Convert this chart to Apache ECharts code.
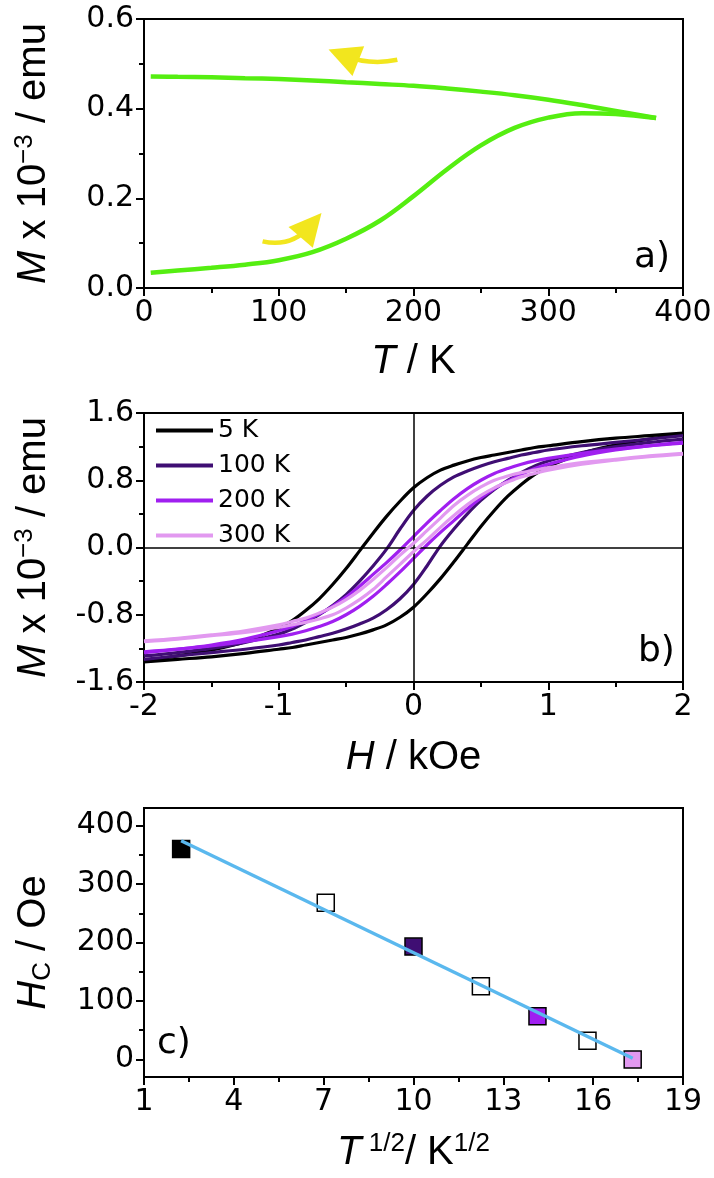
<!DOCTYPE html>
<html><head><meta charset="utf-8">
<script src="https://cdn.jsdelivr.net/npm/echarts@6/dist/echarts.min.js"></script>
<style>html,body{margin:0;padding:0;background:#fff}#c{width:714px;height:1178px}</style>
</head><body><div id="c"></div>
<script>
// ---- Panel a: M vs T ----
const tempA = [5,25,50,75,100,125,150,175,200,225,250,275,300,325,350,380];
const mWarming = [0.034,0.039,0.045,0.052,0.062,0.080,0.110,0.150,0.205,0.265,0.318,0.357,0.380,0.390,0.388,0.379];
const mCooling = [0.472,0.471,0.470,0.468,0.466,0.463,0.459,0.455,0.451,0.445,0.438,0.430,0.420,0.408,0.395,0.379];
const arrowCool = [[188,0.509],[148,0.519]];
const arrowWarm = [[88,0.104],[124,0.140]];
// ---- Panel b: hysteresis loops ----
const hField = [-2,-1.75,-1.5,-1.25,-1,-0.9,-0.8,-0.7,-0.6,-0.5,-0.4,-0.3,-0.2,-0.1,0,0.1,0.2,0.3,0.4,0.5,0.6,0.7,0.8,0.9,1,1.25,1.5,1.75,2];
const loopNames = ['5 K','100 K','200 K','300 K'];
const m5Desc = [-1.35,-1.29,-1.22,-1.12,-0.96,-0.87,-0.75,-0.61,-0.44,-0.25,-0.04,0.17,0.37,0.55,0.71,0.83,0.92,0.98,1.03,1.07,1.10,1.13,1.16,1.19,1.21,1.26,1.30,1.33,1.36];
const m5Asc = [-1.36,-1.33,-1.30,-1.26,-1.21,-1.19,-1.16,-1.13,-1.10,-1.07,-1.03,-0.98,-0.92,-0.83,-0.71,-0.55,-0.37,-0.17,0.04,0.25,0.44,0.61,0.75,0.87,0.96,1.12,1.22,1.29,1.35];
const m100Desc = [-1.29,-1.25,-1.20,-1.13,-1.03,-0.97,-0.89,-0.80,-0.69,-0.56,-0.40,-0.22,-0.02,0.22,0.44,0.61,0.74,0.84,0.91,0.97,1.02,1.06,1.10,1.13,1.16,1.21,1.25,1.29,1.33];
const m100Asc = [-1.33,-1.29,-1.25,-1.21,-1.16,-1.13,-1.10,-1.06,-1.02,-0.97,-0.91,-0.84,-0.74,-0.61,-0.44,-0.22,0.02,0.22,0.40,0.56,0.69,0.80,0.89,0.97,1.03,1.13,1.20,1.25,1.29];
const m200Desc = [-1.25,-1.21,-1.16,-1.09,-0.99,-0.94,-0.87,-0.79,-0.70,-0.59,-0.46,-0.32,-0.18,-0.03,0.13,0.29,0.44,0.58,0.70,0.80,0.88,0.94,0.99,1.03,1.06,1.12,1.17,1.21,1.24];
const m200Asc = [-1.24,-1.21,-1.17,-1.12,-1.06,-1.03,-0.99,-0.94,-0.88,-0.80,-0.70,-0.58,-0.44,-0.29,-0.13,0.03,0.18,0.32,0.46,0.59,0.70,0.79,0.87,0.94,0.99,1.09,1.16,1.21,1.25];
const m300Desc = [-1.11,-1.08,-1.04,-0.99,-0.92,-0.88,-0.84,-0.78,-0.71,-0.62,-0.51,-0.38,-0.24,-0.09,0.05,0.20,0.35,0.50,0.62,0.72,0.80,0.85,0.89,0.92,0.95,1.01,1.05,1.09,1.12];
const m300Asc = [-1.12,-1.09,-1.05,-1.01,-0.95,-0.92,-0.89,-0.85,-0.80,-0.72,-0.62,-0.50,-0.35,-0.20,-0.05,0.09,0.24,0.38,0.51,0.62,0.71,0.78,0.84,0.88,0.92,0.99,1.04,1.08,1.11];
// ---- Panel c: coercivity vs sqrt(T) ----
const sqrtT = [2.24,7.07,10.0,12.25,14.14,15.81,17.32];
const hc = [360,268,193,125,74,32,0];
const hcFill = ['#000000','#ffffff','#3f0e73','#ffffff','#a01ff0','#ffffff','#e299f0'];
const fitX = [2.24,17.32];
const fitY = [374,2];

const FF = "'Liberation Sans', Arial, Helvetica, sans-serif";
const FW = "'DejaVu Sans', Verdana, sans-serif";
const loopColors = ['#000000','#3f0e73','#a01ff0','#e299f0'];
const green = '#55ee11';
const yellow = '#f2e61e';
const pairs = (xs, ys) => xs.map((x,i)=>[x, ys[i]]);
const LBL = 30;

function axisBase(extra){
  return Object.assign({
    type:'value', splitLine:{show:false},
    axisLine:{show:true, onZero:false, lineStyle:{color:'#000', width:2}},
    axisTick:{show:true, inside:false, length:8, lineStyle:{color:'#000', width:2}},
    minorTick:{show:true, splitNumber:2, length:5, lineStyle:{color:'#000', width:2}},
    axisLabel:{color:'#000', fontSize:LBL, fontFamily:FW, margin:10},
    nameTextStyle:{color:'#000', fontSize:40, fontFamily:FF}
  }, extra);
}
const richName = {
  i:{fontStyle:'italic', fontSize:40, fontFamily:FF, color:'#000', lineHeight:44},
  n:{fontSize:40, fontFamily:FF, color:'#000', lineHeight:44},
  sup:{fontSize:26, fontFamily:FF, color:'#000', verticalAlign:'top', lineHeight:26},
  sub:{fontSize:26, fontFamily:FF, color:'#000', verticalAlign:'bottom', lineHeight:26}
};
const gridBase = {left:144, width:539, height:269, show:true, borderColor:'#000', borderWidth:2, backgroundColor:'transparent', containLabel:false, outerBoundsMode:'none'};

const loopDesc = [m5Desc, m100Desc, m200Desc, m300Desc];
const loopAsc = [m5Asc, m100Asc, m200Asc, m300Asc];
const loopSeries = [];
loopNames.forEach((nm, k) => {
  [loopDesc[k], loopAsc[k]].forEach(arr => {
    loopSeries.push({
      type:'line', name:nm, xAxisIndex:1, yAxisIndex:1, data:pairs(hField, arr),
      smooth:0.35, symbol:'none', showSymbol:false, z:2+k,
      lineStyle:{color:loopColors[k], width:3.2}, itemStyle:{color:loopColors[k]}
    });
  });
});

const option = {
  animation:false,
  backgroundColor:'#fff',
  grid:[
    Object.assign({top:19}, gridBase),
    Object.assign({top:413}, gridBase),
    Object.assign({top:808}, gridBase)
  ],
  xAxis:[
    axisBase({gridIndex:0, min:0, max:400, interval:100,
      name:'{i|T}{n| / K}', nameLocation:'middle', nameGap:52,
      nameTextStyle:{rich:richName}}),
    axisBase({gridIndex:1, min:-2, max:2, interval:1,
      name:'{i|H}{n| / kOe}', nameLocation:'middle', nameGap:54,
      nameTextStyle:{rich:richName}}),
    axisBase({gridIndex:2, min:1, max:19, interval:3,
      name:'{i|T}{sup| 1/2}{n|/ K}{sup|1/2}', nameLocation:'middle', nameGap:54,
      nameTextStyle:{rich:richName}})
  ],
  yAxis:[
    axisBase({gridIndex:0, min:0, max:0.6, interval:0.2,
      axisLabel:{color:'#000', fontSize:LBL, fontFamily:FW, margin:10, formatter:v=>v.toFixed(1)},
      name:'{i|M}{n| x 10}{sup|−3}{n| / emu}', nameLocation:'middle', nameGap:88,
      nameTextStyle:{rich:richName}}),
    axisBase({gridIndex:1, min:-1.6, max:1.6, interval:0.8,
      axisLabel:{color:'#000', fontSize:LBL, fontFamily:FW, margin:10, formatter:v=>v.toFixed(1)},
      name:'{i|M}{n| x 10}{sup|−3}{n| / emu}', nameLocation:'middle', nameGap:88,
      nameTextStyle:{rich:richName}}),
    axisBase({gridIndex:2, min:-30, max:430, position:'left',
      axisTick:{show:true, inside:false, length:8, lineStyle:{color:'#000', width:2}, customValues:[0,100,200,300,400]},
      axisLabel:{color:'#000', fontSize:LBL, fontFamily:FW, margin:10, customValues:[0,100,200,300,400]},
      minorTick:{show:false},
      name:'{i|H}{sub|C}{n| / Oe}', nameLocation:'middle', nameGap:88,
      nameTextStyle:{rich:richName}}),
    axisBase({gridIndex:2, min:-30, max:430, position:'left', offset:0,
      axisLine:{show:false},
      axisTick:{show:true, inside:false, length:5, lineStyle:{color:'#000', width:2}, customValues:[50,150,250,350]},
      axisLabel:{show:false}, minorTick:{show:false}})
  ],
  legend:{
    data:loopNames, orient:'vertical', left:151, top:413, itemWidth:57, itemHeight:4, itemGap:10, icon:'rect',
    textStyle:{color:'#000', fontSize:25, fontFamily:FW}, selectedMode:false
  },
  graphic:[
    {type:'text', left:634, top:240, style:{text:'a)', fontSize:36, fontFamily:FW, fill:'#000'}},
    {type:'text', left:638, top:634, style:{text:'b)', fontSize:36, fontFamily:FW, fill:'#000'}},
    {type:'text', left:157, top:1026, style:{text:'c)', fontSize:36, fontFamily:FW, fill:'#000'}}
  ],
  series:[
    {type:'line', name:'cooling', xAxisIndex:0, yAxisIndex:0, data:pairs(tempA, mCooling), smooth:0.4,
      symbol:'none', lineStyle:{color:green, width:4.5}},
    {type:'line', name:'warming', xAxisIndex:0, yAxisIndex:0, data:pairs(tempA, mWarming), smooth:0.4,
      symbol:'none', lineStyle:{color:green, width:4.5}},
    {type:'lines', coordinateSystem:'cartesian2d', xAxisIndex:0, yAxisIndex:0,
      symbol:['none','triangle'], symbolSize:32,
      lineStyle:{color:yellow, width:4.5, opacity:1},
      data:[
        {coords:arrowCool, lineStyle:{curveness:0.15}},
        {coords:arrowWarm, lineStyle:{curveness:-0.3}}
      ]},
    ...loopSeries,
    {type:'line', name:'zero', xAxisIndex:1, yAxisIndex:1, data:[], z:10,
      markLine:{silent:true, symbol:'none', label:{show:false}, animation:false,
        lineStyle:{color:'#000', width:1.5, type:'solid'},
        data:[{xAxis:0},{yAxis:0}]}},
    {type:'scatter', name:'Hc', xAxisIndex:2, yAxisIndex:2, symbol:'rect', symbolSize:17, z:2,
      data:sqrtT.map((x,i)=>({value:[x, hc[i]], itemStyle:{color:hcFill[i], opacity:1, borderColor:'#000', borderWidth:1.5}}))},
    {type:'line', name:'fit', xAxisIndex:2, yAxisIndex:2, data:pairs(fitX, fitY), symbol:'none', z:5,
      lineStyle:{color:'#5ab8ee', width:3.5}}
  ]
};
const chart = echarts.init(document.getElementById('c'), null, {renderer:'canvas'});
chart.setOption(option);
</script></body></html>
